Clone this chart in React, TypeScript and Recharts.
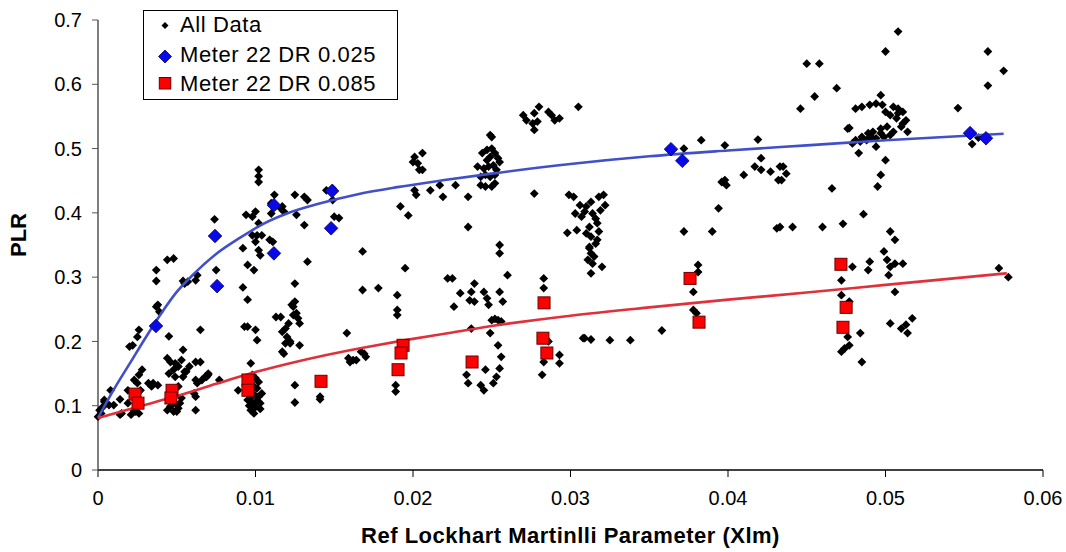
import React from 'react';
import { ComposedChart, Scatter, Line, XAxis, YAxis, Legend } from 'recharts';

const xTicks = [0, 0.01, 0.02, 0.03, 0.04, 0.05, 0.06];
const yTicks = [0, 0.1, 0.2, 0.3, 0.4, 0.5, 0.6, 0.7];

const seriesNames = ['All Data', 'Meter 22 DR 0.025', 'Meter 22 DR 0.085'];
const xTitle = 'Ref Lockhart Martinlli Parameter (Xlm)';
const yTitle = 'PLR';

const allData: [number, number][] = [
  [0.0001,0.093],[0.0000,0.083],[0.0002,0.088],[0.0004,0.106],[0.0008,0.124],[0.0007,0.101],[0.0014,0.110],[0.0014,0.086],[0.0019,0.124],[0.0019,0.104],[0.0020,0.192],[0.0022,0.194],[0.0025,0.207],[0.0026,0.218],[0.0023,0.140],[0.0026,0.148],[0.0028,0.156],[0.0025,0.135],[0.0027,0.124],[0.0021,0.086],[0.0026,0.088],[0.0023,0.093],[0.0004,0.109],[0.0010,0.101],[0.0003,0.098],[0.0015,0.088],[0.0024,0.091],
  [0.0032,0.135],[0.0035,0.135],[0.0038,0.132],[0.0034,0.130],[0.0037,0.311],[0.0037,0.294],[0.0048,0.329],[0.0037,0.254],[0.0038,0.257],[0.0045,0.208],[0.0044,0.327],[0.0039,0.246],
  [0.0044,0.174],[0.0046,0.168],[0.0049,0.166],[0.0048,0.156],[0.0051,0.161],[0.0054,0.187],[0.0053,0.171],[0.0055,0.153],[0.0045,0.150],[0.0049,0.145],[0.0051,0.130],[0.0054,0.145],[0.0056,0.153],[0.0062,0.168],[0.0044,0.093],[0.0048,0.091],[0.0050,0.091],[0.0051,0.096],[0.0049,0.104],[0.0047,0.109],[0.0052,0.104],[0.0046,0.099],[0.0053,0.112],
  [0.0061,0.119],[0.0062,0.093],[0.0062,0.295],[0.0063,0.303],[0.0054,0.294],[0.0055,0.290],[0.0057,0.293],[0.0065,0.218],[0.0065,0.168],[0.0066,0.140],[0.0068,0.145],[0.0070,0.148],[0.0062,0.140],[0.0063,0.135],[0.0077,0.140],[0.0074,0.390],[0.0075,0.311],[0.0058,0.161],[0.0070,0.150],[0.0062,0.114],[0.0069,0.145],
  [0.0094,0.397],[0.0098,0.394],[0.0100,0.402],[0.0102,0.384],[0.0101,0.365],[0.0098,0.365],[0.0100,0.355],[0.0102,0.342],[0.0103,0.334],[0.0092,0.345],[0.0095,0.319],[0.0099,0.311],[0.0092,0.284],[0.0095,0.265],[0.0093,0.223],[0.0095,0.223],[0.0100,0.218],[0.0101,0.202],[0.0097,0.166],[0.0098,0.148],[0.0100,0.143],[0.0102,0.137],[0.0094,0.124],[0.0095,0.109],[0.0098,0.104],[0.0100,0.098],[0.0102,0.114],[0.0104,0.119],[0.0097,0.093],[0.0089,0.124],[0.0099,0.130],[0.0103,0.104],[0.0102,0.467],[0.0102,0.457],[0.0102,0.448],[0.0104,0.365],[0.0096,0.100],[0.0101,0.108],[0.0099,0.118],[0.0097,0.112],[0.0103,0.095],[0.0099,0.088],[0.0101,0.127],
  [0.0112,0.428],[0.0116,0.407],[0.0118,0.402],[0.0110,0.399],[0.0109,0.358],[0.0111,0.355],[0.0125,0.428],[0.0131,0.425],[0.0133,0.420],[0.0126,0.397],[0.0131,0.381],[0.0133,0.324],[0.0125,0.290],[0.0123,0.257],[0.0125,0.262],[0.0124,0.241],[0.0126,0.244],[0.0127,0.236],[0.0116,0.238],[0.0117,0.215],[0.0119,0.220],[0.0121,0.228],[0.0120,0.207],[0.0119,0.197],[0.0118,0.181],[0.0122,0.200],[0.0128,0.228],[0.0128,0.194],[0.0125,0.132],[0.0125,0.105],[0.0124,0.254],[0.0113,0.238],[0.0122,0.197],[0.0117,0.184],[0.0110,0.415],[0.0117,0.410],
  [0.0150,0.394],[0.0153,0.392],[0.0149,0.420],[0.0145,0.435],[0.0149,0.438],[0.0158,0.213],[0.0168,0.340],[0.0168,0.280],[0.0178,0.283],[0.0159,0.174],[0.0162,0.171],[0.0167,0.184],[0.0170,0.176],[0.0169,0.181],[0.0164,0.171],[0.0141,0.114],[0.0141,0.110],[0.0160,0.168],
  [0.0195,0.314],[0.0192,0.410],[0.0197,0.396],[0.0201,0.487],[0.0203,0.477],[0.0204,0.467],[0.0200,0.479],[0.0201,0.435],[0.0202,0.428],[0.0190,0.272],[0.0190,0.249],[0.0190,0.241],[0.0189,0.132],[0.0189,0.122],[0.0193,0.194],[0.0206,0.493],[0.0206,0.467],
  [0.0211,0.435],[0.0217,0.443],[0.0219,0.425],[0.0227,0.443],[0.0235,0.425],[0.0235,0.378],[0.0222,0.298],
  [0.0249,0.521],[0.0250,0.518],[0.0244,0.493],[0.0247,0.498],[0.0250,0.500],[0.0252,0.493],[0.0254,0.485],[0.0255,0.479],[0.0241,0.472],[0.0245,0.469],[0.0248,0.472],[0.0251,0.474],[0.0253,0.467],[0.0243,0.456],[0.0246,0.459],[0.0249,0.456],[0.0252,0.459],[0.0243,0.443],[0.0246,0.441],[0.0250,0.441],[0.0252,0.446],[0.0247,0.482],[0.0249,0.487],
  [0.0270,0.552],[0.0272,0.544],[0.0277,0.555],[0.0280,0.565],[0.0279,0.542],[0.0276,0.539],[0.0277,0.529],[0.0286,0.557],[0.0288,0.552],[0.0290,0.544],[0.0293,0.547],[0.0305,0.565],[0.0277,0.430],[0.0299,0.428],
  [0.0255,0.350],[0.0255,0.337],[0.0260,0.303],[0.0225,0.298],[0.0230,0.275],[0.0226,0.254],[0.0237,0.277],[0.0239,0.290],[0.0236,0.264],[0.0239,0.262],[0.0245,0.277],[0.0247,0.267],[0.0248,0.257],[0.0255,0.277],[0.0257,0.262],[0.0250,0.233],[0.0252,0.235],[0.0254,0.233],[0.0256,0.231],[0.0237,0.220],[0.0249,0.213],[0.0254,0.194],[0.0256,0.176],[0.0255,0.158],[0.0253,0.145],[0.0251,0.135],[0.0246,0.156],[0.0234,0.148],[0.0235,0.135],[0.0243,0.132],[0.0245,0.124],
  [0.0283,0.298],[0.0283,0.283],[0.0286,0.200],[0.0283,0.168],[0.0282,0.148],[0.0293,0.179],[0.0293,0.166],[0.0309,0.205],
  [0.0302,0.425],[0.0306,0.412],[0.0310,0.410],[0.0313,0.417],[0.0318,0.425],[0.0321,0.428],[0.0322,0.412],[0.0303,0.399],[0.0307,0.394],[0.0309,0.402],[0.0314,0.399],[0.0319,0.404],[0.0317,0.384],[0.0312,0.378],[0.0318,0.371],[0.0310,0.368],[0.0304,0.373],[0.0298,0.369],[0.0313,0.363],[0.0317,0.358],[0.0312,0.347],[0.0313,0.337],[0.0311,0.327],[0.0314,0.321],[0.0320,0.316],[0.0313,0.306],[0.0312,0.345],[0.0316,0.352],[0.0315,0.332],[0.0316,0.391],
  [0.0308,0.205],[0.0313,0.203],[0.0325,0.202],[0.0338,0.202],[0.0358,0.217],
  [0.0383,0.513],[0.0398,0.505],[0.0372,0.500],[0.0396,0.448],[0.0398,0.451],[0.0394,0.407],[0.0372,0.371],[0.0390,0.371],[0.0381,0.319],[0.0381,0.308],[0.0378,0.277],[0.0378,0.249],[0.0380,0.244],[0.0419,0.514],[0.0421,0.485],[0.0417,0.472],[0.0421,0.467],[0.0427,0.464],[0.0433,0.472],[0.0432,0.451],[0.0410,0.459],[0.0399,0.443],[0.0431,0.376],[0.0437,0.461],[0.0435,0.472],[0.0434,0.451],
  [0.0450,0.632],[0.0458,0.632],[0.0469,0.594],[0.0455,0.581],[0.0446,0.562],[0.0466,0.438],[0.0433,0.378],[0.0441,0.378],[0.0460,0.378],[0.0473,0.383],[0.0486,0.398],
  [0.0500,0.651],[0.0497,0.583],[0.0508,0.682],[0.0481,0.562],[0.0485,0.565],[0.0490,0.568],[0.0494,0.570],[0.0498,0.568],[0.0500,0.557],[0.0505,0.565],[0.0508,0.562],[0.0511,0.557],[0.0513,0.544],[0.0507,0.547],[0.0510,0.534],[0.0514,0.526],[0.0505,0.526],[0.0501,0.534],[0.0497,0.531],[0.0492,0.526],[0.0489,0.524],[0.0485,0.518],[0.0481,0.513],[0.0479,0.508],[0.0484,0.511],[0.0488,0.513],[0.0494,0.516],[0.0499,0.518],[0.0503,0.521],[0.0494,0.503],[0.0483,0.493],[0.0476,0.531],[0.0508,0.555],[0.0503,0.552],[0.0511,0.539],[0.0497,0.524],[0.0491,0.518],[0.0477,0.532],[0.0500,0.482],[0.0497,0.459],[0.0495,0.441],
  [0.0503,0.371],[0.0506,0.358],[0.0499,0.340],[0.0501,0.327],[0.0503,0.316],[0.0506,0.321],[0.0511,0.321],[0.0490,0.324],[0.0489,0.311],[0.0479,0.316],[0.0502,0.303],[0.0472,0.295],[0.0472,0.272],[0.0477,0.262],[0.0506,0.277],[0.0503,0.228],[0.0510,0.220],[0.0513,0.226],[0.0517,0.236],[0.0514,0.213],[0.0476,0.207],[0.0484,0.213],[0.0477,0.194],[0.0474,0.189],[0.0472,0.184],[0.0485,0.168],
  [0.0565,0.651],[0.0575,0.621],[0.0565,0.598],[0.0546,0.563],[0.0554,0.520],[0.0559,0.517],[0.0555,0.507],[0.0572,0.314],[0.0578,0.300],
];

const meter025: [number, number][] = [
  [0.00368,0.224],[0.00743,0.364],[0.00756,0.286],[0.01117,0.412],[0.01117,0.337],[0.01486,0.434],[0.0148,0.376],[0.03638,0.499],[0.0371,0.481],[0.05537,0.524],[0.05638,0.516],
];

const meter085: [number, number][] = [
  [0.00235,0.118],[0.00254,0.104],[0.0047,0.124],[0.00463,0.112],[0.00952,0.140],[0.00952,0.124],[0.01416,0.138],[0.01937,0.194],[0.01924,0.182],[0.01905,0.156],[0.02375,0.168],[0.02832,0.260],[0.02825,0.205],[0.0285,0.182],[0.03759,0.298],[0.03816,0.230],[0.04717,0.320],[0.0475,0.253],[0.0473,0.222],
];

const fit025: [number, number][] = [
  [0,0.081],[0.001,0.125],[0.002,0.165],[0.003,0.205],[0.004,0.243],[0.005,0.277],[0.006,0.303],[0.0075,0.336],[0.009,0.361],[0.0105,0.383],[0.012,0.399],[0.014,0.414],[0.0165,0.429],[0.019,0.440],[0.022,0.451],[0.025,0.461],[0.03,0.476],[0.035,0.488],[0.04,0.497],[0.045,0.505],[0.05,0.513],[0.0575,0.523],
];

const fit085: [number, number][] = [
  [0,0.081],[0.0025,0.098],[0.005,0.115],[0.0075,0.134],[0.0095,0.149],[0.012,0.165],[0.0145,0.179],[0.017,0.191],[0.0195,0.202],[0.0225,0.214],[0.025,0.224],[0.03,0.240],[0.035,0.253],[0.04,0.265],[0.045,0.276],[0.05,0.288],[0.0577,0.306],
];

const toPts = (a: [number, number][]) => a.map(([x, y]) => ({ x, y }));

const FONT = 'Arial, "Liberation Sans", Helvetica, sans-serif';

const SmallDiamond = (props: any) => {
  const { cx, cy } = props;
  if (cx == null || cy == null) return null;
  const r = 4.4;
  return <polygon points={`${cx},${cy - r} ${cx + r},${cy} ${cx},${cy + r} ${cx - r},${cy}`} fill="#000" />;
};

const BlueDiamond = (props: any) => {
  const { cx, cy } = props;
  if (cx == null || cy == null) return null;
  const r = 6.8;
  return <polygon points={`${cx},${cy - r} ${cx + r},${cy} ${cx},${cy + r} ${cx - r},${cy}`} fill="#0a0ae8" stroke="#000070" strokeWidth={0.8} />;
};

const RedSquare = (props: any) => {
  const { cx, cy } = props;
  if (cx == null || cy == null) return null;
  const s = 12;
  return <rect x={cx - s / 2} y={cy - s / 2} width={s} height={s} fill="#ff0000" stroke="#6a0000" strokeWidth={1} />;
};

const LegendBox = () => (
  <svg width={256} height={91} style={{ display: 'block' }}>
    <rect x={0.5} y={0.5} width={254} height={89} fill="#fff" stroke="#000" strokeWidth={1} />
    <polygon points="22,12 25.5,15.5 22,19 18.5,15.5" fill="#000" />
    <text x={37} y={22.4} fontFamily={FONT} fontSize={22} letterSpacing={0.6} fill="#000">{seriesNames[0]}</text>
    <polygon points="22,40 28.5,46.5 22,53 15.5,46.5" fill="#0a0ae8" stroke="#000070" strokeWidth={0.8} />
    <text x={37} y={52.4} fontFamily={FONT} fontSize={22} letterSpacing={0.6} fill="#000">{seriesNames[1]}</text>
    <rect x={16.3} y={67.5} width={11.5} height={11.5} fill="#ff0000" stroke="#6a0000" strokeWidth={1} />
    <text x={37} y={80.8} fontFamily={FONT} fontSize={22} letterSpacing={0.6} fill="#000">{seriesNames[2]}</text>
  </svg>
);

export default function App() {
  return (
    <div style={{ position: 'absolute', left: 0, top: 0, width: 1066, height: 552, background: '#fff' }}>
      <ComposedChart width={1066} height={552} margin={{ top: 20, right: 23, bottom: 0, left: 0 }}>
        <XAxis
          type="number"
          dataKey="x"
          domain={[0, 0.06]}
          ticks={xTicks}
          interval={0}
          height={82}
          tickSize={7}
          tickMargin={14}
          stroke="#000"
          axisLine={{ stroke: '#000', strokeWidth: 1.5 }}
          tickLine={{ stroke: '#000', strokeWidth: 1 }}
          tick={{ fill: '#000', fontSize: 20, fontFamily: FONT }}
          label={{
            content: (p: any) => {
              const vb = p.viewBox || {};
              return (
                <text x={vb.x + vb.width / 2} y={543} textAnchor="middle" fontFamily={FONT} fontSize={22} fontWeight="bold" letterSpacing={0.5} fill="#000">
                  {xTitle}
                </text>
              );
            },
          }}
        />
        <YAxis
          type="number"
          dataKey="y"
          domain={[0, 0.7]}
          ticks={yTicks}
          interval={0}
          width={98}
          tickSize={6}
          tickMargin={10}
          axisLine={{ stroke: '#555', strokeWidth: 1.5 }}
          tickLine={{ stroke: '#555', strokeWidth: 1 }}
          tick={{ fill: '#000', fontSize: 20, fontFamily: FONT }}
          label={{
            content: () => (
              <text x={25.5} y={235} transform="rotate(-90 25.5 235)" textAnchor="middle" fontFamily={FONT} fontSize={22} fontWeight="bold" fill="#000">
                {yTitle}
              </text>
            ),
          }}
        />
        <Legend
          layout="vertical"
          align="center"
          verticalAlign="middle"
          content={() => <LegendBox />}
          wrapperStyle={{ left: 143, top: 10, width: 256, height: 91 }}
        />
        <Scatter name={seriesNames[0]} data={toPts(allData)} dataKey="y" shape={SmallDiamond} isAnimationActive={false} zIndex={500} />
        <Line data={toPts(fit025)} dataKey="y" type="monotone" stroke="#4150c8" strokeWidth={2.6} dot={false} activeDot={false} isAnimationActive={false} legendType="none" zIndex={650} />
        <Line data={toPts(fit085)} dataKey="y" type="monotone" stroke="#e0303a" strokeWidth={2.6} dot={false} activeDot={false} isAnimationActive={false} legendType="none" zIndex={650} />
        <Scatter name={seriesNames[1]} data={toPts(meter025)} dataKey="y" shape={BlueDiamond} isAnimationActive={false} zIndex={700} />
        <Scatter name={seriesNames[2]} data={toPts(meter085)} dataKey="y" shape={RedSquare} isAnimationActive={false} zIndex={700} />
      </ComposedChart>
    </div>
  );
}
